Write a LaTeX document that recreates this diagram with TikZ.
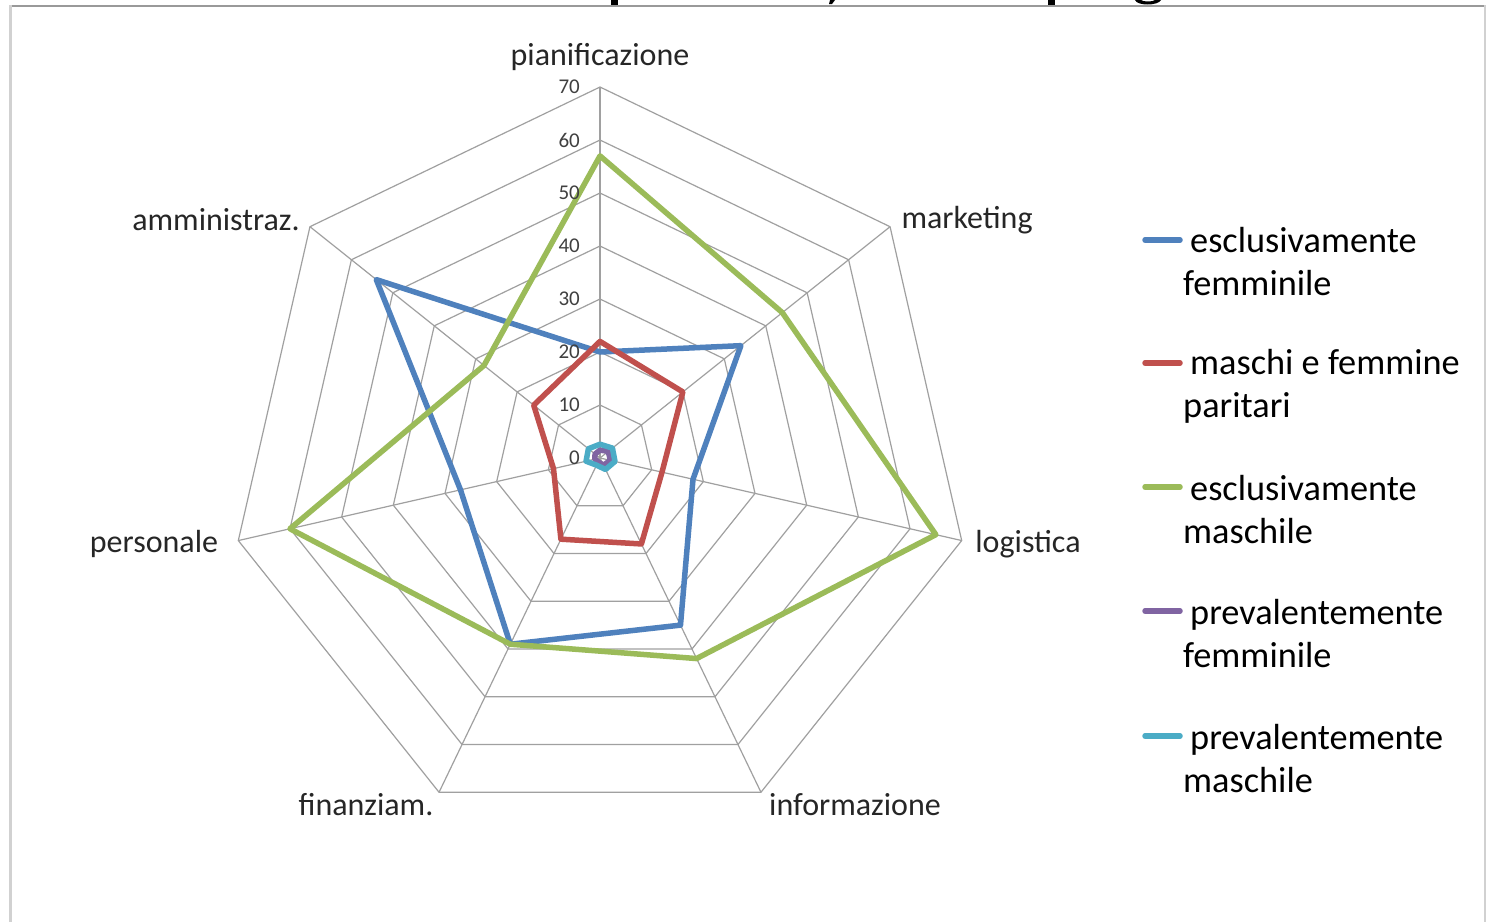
\documentclass[tikz,border=0pt]{standalone}
\usepackage{fontspec}
\setmainfont{Carlito}
\definecolor{c1}{HTML}{4F81BD}
\definecolor{c2}{HTML}{C0504D}
\definecolor{c3}{HTML}{9BBB59}
\definecolor{c4}{HTML}{8064A2}
\definecolor{c5}{HTML}{4BACC6}
\definecolor{gridc}{HTML}{A0A0A0}
\definecolor{labc}{HTML}{262626}
\definecolor{tickc}{HTML}{404040}
\tikzset{
  gridline/.style={draw=gridc, line width=1.2pt},
  ser/.style={line width=5.5pt, line join=round},
  axlab/.style={font=\fontsize{32}{36}\selectfont, text=labc, inner sep=0pt},
  ticklab/.style={font=\fontsize{21}{24}\selectfont, text=tickc, anchor=east, inner sep=0pt},
  legtext/.style={font=\fontsize{36.3}{43}\selectfont, text=black, align=left, anchor=west, inner sep=0pt},
  legline/.style={line width=5.5pt, line cap=round},
}
\begin{document}
\begin{tikzpicture}[x=1pt,y=-1pt]
\useasboundingbox (0,0) rectangle (1488,922);
\fill[white] (0,0) rectangle (1488,922);
% cut-off title fragments
\fill[black] (611,0) rectangle (618,5);
\fill[black] (830,0) -- (835,0) -- (832,4) -- (829,4) -- cycle;
\fill[black] (1048,0) rectangle (1055,5);
\fill[black] (1135,0) .. controls (1137,6) and (1158,6) .. (1161,0) -- (1155,0) .. controls (1153,2) and (1143,2) .. (1141,0) -- cycle;
% frame
\draw[draw=black!40, line width=2pt] (10,5.5) -- (1486,5.5);
\draw[draw=black!18, line width=3pt] (10.5,5) -- (10.5,922);
\draw[draw=black!18, line width=2.5pt] (1485,5) -- (1485,922);
% radar
\def\S{5.3}
\begin{scope}[shift={(600,458)}, y=1pt]
  \foreach \r in {10,20,...,70}
    \draw[gridline] (90:\r*\S) \foreach \k in {1,...,6} {-- ({90-\k*360/7}:\r*\S)} -- cycle;
  \foreach \k in {0,...,6}
    \draw[gridline] (0,0) -- ({90-\k*360/7}:70*\S);
  % series
  \draw[ser, c1] (90:20*\S) -- (38.571:34*\S) -- (-12.857:18*\S) -- (-64.286:35*\S) -- (-115.714:39*\S) -- (-167.143:27*\S) -- (141.429:54*\S) -- cycle;
  \draw[ser, c2] (90:22*\S) -- (38.571:20*\S) -- (-12.857:12*\S) -- (-64.286:18*\S) -- (-115.714:17*\S) -- (-167.143:9*\S) -- (141.429:16*\S) -- cycle;
  \draw[ser, c3] (90:57*\S) -- (38.571:44*\S) -- (-12.857:65*\S) -- (-64.286:42*\S) -- (-115.714:39*\S) -- (-167.143:60*\S) -- (141.429:28*\S) -- cycle;
  \draw[ser, c4] (90:1.5*\S) -- (38.571:2*\S) -- (-12.857:2*\S) -- (-64.286:1.5*\S) -- (-115.714:0.8*\S) -- (-167.143:1*\S) -- (141.429:1.2*\S) -- cycle;
  \draw[ser, c5] (90:2.6*\S) -- (38.571:3*\S) -- (-12.857:2.9*\S) -- (-64.286:2.4*\S) -- (-115.714:1.5*\S) -- (-167.143:2.7*\S) -- (141.429:2.8*\S) -- cycle;
\end{scope}
% tick labels
\foreach \v in {0,10,...,70}
  \node[ticklab] (t\v) at (580,{458-\v*\S}) {\v};
% axis labels
\node[axlab] (lpian) at (600,57) {pianificazione};
\node[axlab] (lmark) at (967,220) {marketing};
\node[axlab] (llog) at (1028,544) {logistica};
\node[axlab] (linf) at (855,805) {informazione};
\node[axlab] (lfin) at (366,805) {finanziam.};
\node[axlab] (lpers) at (154,544) {personale};
\node[axlab] (lamm) at (216,220) {amministraz.};
% legend
\coordinate (s1a) at (1145,240); \coordinate (s1b) at (1180,240);
\coordinate (s2a) at (1145,363); \coordinate (s2b) at (1180,363);
\coordinate (s3a) at (1145,487); \coordinate (s3b) at (1180,487);
\coordinate (s4a) at (1145,611); \coordinate (s4b) at (1180,611);
\coordinate (s5a) at (1145,736); \coordinate (s5b) at (1180,736);
\draw[legline, c1] (s1a) -- (s1b);
\draw[legline, c2] (s2a) -- (s2b);
\draw[legline, c3] (s3a) -- (s3b);
\draw[legline, c4] (s4a) -- (s4b);
\draw[legline, c5] (s5a) -- (s5b);
\node[legtext] (e1) at (1183,262) {\hspace*{7pt}esclusivamente\\femminile};
\node[legtext] (e2) at (1183,386) {\hspace*{7pt}maschi e femmine\\paritari};
\node[legtext] (e3) at (1183,510) {\hspace*{7pt}esclusivamente\\maschile};
\node[legtext] (e4) at (1183,634) {\hspace*{7pt}prevalentemente\\femminile};
\node[legtext] (e5) at (1183,759) {\hspace*{7pt}prevalentemente\\maschile};
\end{tikzpicture}
\end{document}
